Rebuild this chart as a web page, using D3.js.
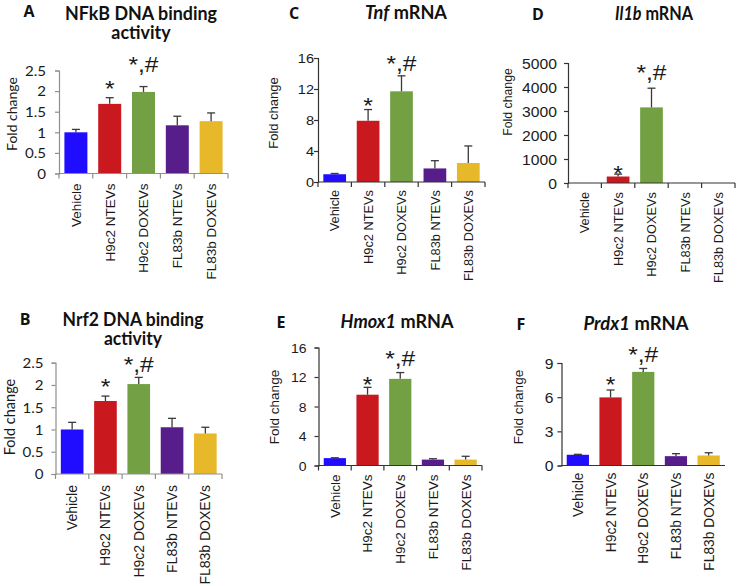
<!DOCTYPE html>
<html><head><meta charset="utf-8">
<script src="https://cdn.jsdelivr.net/npm/d3@7"></script>
<style>body{margin:0;background:#fff} svg{display:block}</style>
</head><body><svg id="c" width="740" height="586"></svg>
<script>
// ---------- data ----------
const categories = ["Vehicle", "H9c2 NTEVs", "H9c2 DOXEVs", "FL83b NTEVs", "FL83b DOXEVs"];
const barColors = ["#200cff", "#c9191f", "#72a042", "#571e8b", "#e6b82a"];
const signif = ["", "*", "*,#", "", ""];

const nfkbMean = [1.0, 1.69, 1.98, 1.17, 1.27];
const nfkbErr  = [0.07, 0.15, 0.13, 0.22, 0.20];
const nrf2Mean = [1.0, 1.64, 2.02, 1.05, 0.91];
const nrf2Err  = [0.16, 0.11, 0.15, 0.20, 0.14];
const tnfMean  = [1.0, 7.9, 11.7, 1.75, 2.45];
const tnfErr   = [0.1, 1.45, 2.0, 1.0, 2.2];
const il1bMean = [1, 270, 3150, 2, 2];
const il1bErr  = [0, 100, 800, 0, 0];
const hmox1Mean = [1.0, 9.6, 11.75, 0.8, 0.8];
const hmox1Err  = [0.05, 1.0, 0.85, 0.12, 0.45];
const prdx1Mean = [0.94, 5.98, 8.22, 0.82, 0.88];
const prdx1Err  = [0.04, 0.65, 0.3, 0.22, 0.24];

const ticksBinding = [0, 0.5, 1, 1.5, 2, 2.5];
const ticksTnf = [0, 4, 8, 12, 16];
const ticksIl1b = [0, 1000, 2000, 3000, 4000, 5000];
const ticksHmox1 = [0, 4, 8, 12, 16];
const ticksPrdx1 = [0, 3, 6, 9];

const titleA = [[["NFkB DNA binding", false]], [["activity", false]]];
const titleB = [[["Nrf2 DNA binding", false]], [["activity", false]]];
const titleC = [[["Tnf", true], [" mRNA", false]]];
const titleD = [[["Il1b", true], [" mRNA", false]]];
const titleE = [[["Hmox1", true], [" mRNA", false]]];
const titleF = [[["Prdx1", true], [" mRNA", false]]];
const yTitle = "Fold change";

// ---------- layout ----------
const ARIAL = "'Liberation Sans', Arial, sans-serif";
const LATO = "Lato, 'Open Sans', sans-serif";
const panels = [
  {letter:"A", title:titleA, mean:nfkbMean, err:nfkbErr, ticks:ticksBinding,
   x0:59, x1:228, y0:173.5, yTop:70.5, lx:29, ly:17, tx:141, ty:20, tw:152, yx:12, yy:114,
   tickPad:13, tickFont:13.5, tickFam:LATO, yFont:14, yFam:LATO, catFont:13.5, catGap:10,
   xTicks:true, axisColor:"#8f8f8f", gaps:[0,1.5,15,0,0]},
  {letter:"B", title:titleB, mean:nrf2Mean, err:nrf2Err, ticks:ticksBinding,
   x0:55.5, x1:222, y0:474, yTop:362.7, lx:25, ly:325, tx:133, ty:326, tw:141, yx:10, yy:417,
   tickPad:12, tickFont:13.5, tickFam:LATO, yFont:14.5, yFam:LATO, catFont:14, catGap:11,
   xTicks:true, axisColor:"#8f8f8f", gaps:[0,2.5,5,0,0]},
  {letter:"C", title:titleC, mean:tnfMean, err:tnfErr, ticks:ticksTnf,
   x0:318, x1:485, y0:182, yTop:58, lx:294, ly:19, tx:406, ty:19, tw:82, yx:273.5, yy:113,
   tickPad:4, tickFont:13, tickFam:ARIAL, yFont:13, yFam:ARIAL, catFont:12.8, catGap:8,
   xTicks:true, axisColor:"#333", gaps:[0,-3.5,5,0,0]},
  {letter:"D", title:titleD, mean:il1bMean, err:il1bErr, ticks:ticksIl1b,
   x0:568, x1:735, y0:183, yTop:63, lx:538, ly:20, tx:654, ty:20, tw:78, yx:508, yy:102,
   tickPad:11, tickFont:14, tickFam:ARIAL, yFont:12.3, yFam:ARIAL, catFont:12.8, catGap:9,
   xTicks:true, axisColor:"#333", gaps:[0,-7,8,0,0]},
  {letter:"E", title:titleE, mean:hmox1Mean, err:hmox1Err, ticks:ticksHmox1,
   x0:318.5, x1:482, y0:465.5, yTop:347.5, lx:281, ly:328, tx:397, ty:328, tw:113, yx:274.5, yy:407,
   tickPad:12, tickFont:12.5, tickFam:ARIAL, yFont:13.5, yFam:ARIAL, catFont:13.5, catGap:9,
   xTicks:true, axisColor:"#333", gaps:[0,-4.5,7,0,0]},
  {letter:"F", title:titleF, mean:prdx1Mean, err:prdx1Err, ticks:ticksPrdx1,
   x0:561.5, x1:725, y0:465.5, yTop:363, lx:521, ly:330, tx:636, ty:330, tw:105, yx:518, yy:407,
   tickPad:8, tickFont:14, tickFam:ARIAL, yFont:13.5, yFam:ARIAL, catFont:13.8, catGap:7,
   xTicks:false, axisColor:"#333", gaps:[0,-2.5,6,0,0]}
];

const svg = d3.select("#c");

panels.forEach(p => {
  const g = svg.append("g");
  const x = d3.scaleBand().domain(categories).range([p.x0, p.x1]).paddingInner(0.32).paddingOuter(0.16);
  const maxV = p.ticks[p.ticks.length - 1];
  const y = d3.scaleLinear().domain([0, maxV]).range([p.y0, p.yTop]);
  const cx = d => x(d) + x.bandwidth() / 2;
  const idx = d => categories.indexOf(d);

  // bars
  g.selectAll("rect.bar").data(categories).join("rect")
    .attr("x", d => x(d)).attr("width", x.bandwidth())
    .attr("y", (d, i) => y(p.mean[i])).attr("height", (d, i) => p.y0 - y(p.mean[i]))
    .attr("fill", (d, i) => barColors[i]);

  // error bars (upper only)
  const withErr = categories.filter((d, i) => p.err[i] > 0);
  const eb = g.append("g").attr("stroke", "#3a3a3a").attr("stroke-width", 1.3);
  eb.selectAll("line.v").data(withErr).join("line").attr("class", "v")
    .attr("x1", cx).attr("x2", cx)
    .attr("y1", d => y(p.mean[idx(d)])).attr("y2", d => y(p.mean[idx(d)] + p.err[idx(d)]));
  eb.selectAll("line.c").data(withErr).join("line").attr("class", "c")
    .attr("x1", d => cx(d) - 4).attr("x2", d => cx(d) + 4)
    .attr("y1", d => y(p.mean[idx(d)] + p.err[idx(d)])).attr("y2", d => y(p.mean[idx(d)] + p.err[idx(d)]));

  // y axis
  const ya = g.append("g").attr("transform", `translate(${p.x0},0)`)
    .call(d3.axisLeft(y).tickValues(p.ticks).tickSize(4).tickFormat(d => String(d)));
  ya.select(".domain").attr("stroke", p.axisColor).attr("stroke-width", 1.2);
  ya.selectAll(".tick line").attr("stroke", p.axisColor).attr("stroke-width", 1.2);
  ya.selectAll(".tick text").attr("x", null).attr("dy", null)
    .attr("transform", `translate(${-p.tickPad},${p.tickFont * 0.36}) scale(1.12,1)`)
    .attr("font-family", p.tickFam).attr("font-size", p.tickFont).attr("fill", "#1a1a1a");

  // x axis (band boundaries as ticks)
  const xa = g.append("g").attr("stroke", p.axisColor).attr("stroke-width", 1.2);
  xa.append("line").attr("x1", p.x0).attr("x2", p.x1).attr("y1", p.y0).attr("y2", p.y0);
  if (p.xTicks) {
    const bounds = d3.range(categories.length + 1).map(i => x.range()[0] + i * x.step());
    xa.selectAll("line.t").data(bounds).join("line").attr("class", "t")
      .attr("x1", d => d).attr("x2", d => d).attr("y1", p.y0).attr("y2", p.y0 + 5);
  }

  // category labels
  g.selectAll("text.cat").data(categories).join("text")
    .attr("transform", d => `translate(${cx(d)},${p.y0 + p.catGap}) rotate(-90)`)
    .attr("dy", "0.36em").attr("text-anchor", "end")
    .attr("font-family", ARIAL).attr("font-size", p.catFont).attr("fill", "#1a1a1a")
    .text(d => d);

  // significance annotations
  const sigCats = categories.filter((d, i) => signif[i] !== "");
  g.selectAll("text.sig").data(sigCats).join("text")
    .attr("transform", d => `translate(${cx(d)},${y(p.mean[idx(d)] + p.err[idx(d)]) - p.gaps[idx(d)]}) scale(1.12,1)`)
    .attr("text-anchor", "middle").attr("font-family", ARIAL).attr("font-size", 22).attr("fill", "#1a1a1a")
    .text(d => signif[idx(d)]);

  // y title
  g.append("text")
    .attr("transform", `translate(${p.yx},${p.yy}) rotate(-90)`)
    .attr("dy", "0.36em").attr("text-anchor", "middle")
    .attr("font-family", p.yFam).attr("font-size", p.yFont).attr("fill", "#1a1a1a")
    .text(yTitle);

  // panel letter
  g.append("text").attr("x", p.lx).attr("y", p.ly).attr("text-anchor", "middle")
    .attr("font-family", "'Open Sans', Lato, sans-serif").attr("font-weight", "bold").attr("font-size", 16)
    .attr("fill", "#111").text(p.letter);

  // title: one text element; lines as tspans; horizontally fitted to the reference width
  const t = g.append("text").attr("text-anchor", "middle")
    .attr("font-family", LATO).attr("font-weight", "bold").attr("font-size", 18).attr("fill", "#111");
  const lines = p.title.map((line, li) => {
    const lt = t.append("tspan").attr("x", 0).attr("y", li * 19);
    line.forEach(([s, it]) => lt.append("tspan").attr("font-style", it ? "italic" : "normal").text(s));
    return lt;
  });
  const w0 = lines[0].node().getComputedTextLength() || p.tw;
  const sx = p.tw / w0;
  t.attr("transform", `translate(${p.tx},${p.ty}) scale(${sx},1)`);
});
</script>
</body></html>
